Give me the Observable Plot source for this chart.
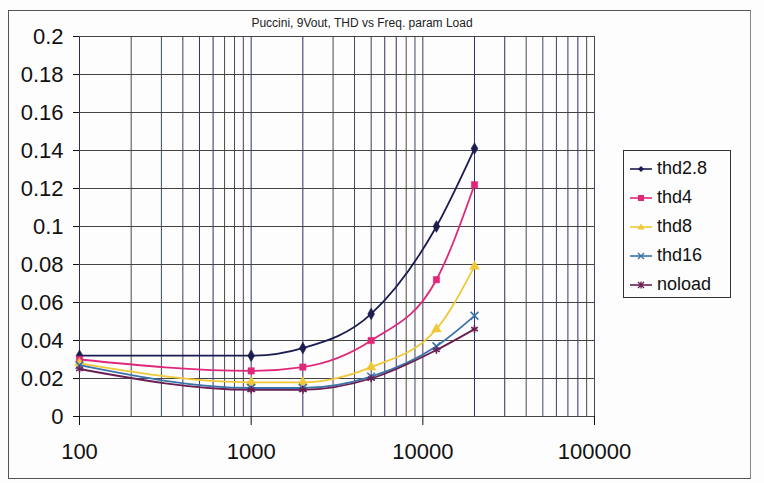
<!DOCTYPE html>
<html><head><meta charset="utf-8">
<script src="https://cdn.jsdelivr.net/npm/d3@7"></script>
<script src="https://cdn.jsdelivr.net/npm/@observablehq/plot@0.6"></script>
<style>
body{margin:0;background:#fff;font-family:"Liberation Sans",Arial,sans-serif;}
#wrap{position:relative;width:764px;height:483px;overflow:hidden;background:#fdfdfd;}
#border{position:absolute;left:8px;top:10px;width:741px;height:467px;border:1px solid #555;border-right-color:#888;}
#title{position:absolute;left:0;width:724px;top:16px;text-align:center;font-size:12px;color:#222;}
#legend{position:absolute;left:623px;top:150px;width:108px;height:148px;border:1px solid #333;box-sizing:border-box;padding-top:3px;}
.li{display:flex;align-items:center;height:29px;font-size:18px;color:#111;}
.li svg{margin-left:6px;margin-right:5px;}
#chart{position:absolute;left:0;top:0;}
</style></head>
<body>
<div id="wrap">
<div id="border"></div>
<div id="chart"></div>
<div id="title"></div>
<div id="legend"></div>
</div>
<script>
const titleText = "Puccini, 9Vout, THD vs Freq. param Load";
const freqs = [100, 1000, 2000, 5000, 12000, 20000];
const thd28 = [0.032, 0.032, 0.036, 0.054, 0.100, 0.141];
const thd4 = [0.030, 0.024, 0.026, 0.040, 0.072, 0.122];
const thd8 = [0.028, 0.018, 0.018, 0.026, 0.046, 0.079];
const thd16 = [0.027, 0.015, 0.015, 0.021, 0.037, 0.053];
const noload = [0.025, 0.014, 0.014, 0.020, 0.035, 0.046];
const seriesNames = ["thd2.8", "thd4", "thd8", "thd16", "noload"];
const seriesColors = ["#1c1c50", "#e0287a", "#f0c838", "#3a74aa", "#6a1e52"];
const seriesSymbols = ["diamond", "square", "triangle", "times", "asterisk"];
const yTicks = [0, 0.02, 0.04, 0.06, 0.08, 0.1, 0.12, 0.14, 0.16, 0.18, 0.2];
const xTickLabels = [100, 1000, 10000, 100000];
const gridPalette = ["#2e2a66", "#4c4a48", "#3c4c5c", "#4a3662", "#34346a"];

const allValues = [thd28, thd4, thd8, thd16, noload];
const xGrid = [];
for (const dec of [100, 1000, 10000]) for (let k = 1; k <= 9; k++) xGrid.push(dec * k);
xGrid.push(100000);

const marks = [
  Plot.ruleX(xGrid, {x: d => d, stroke: (d, i) => gridPalette[i % gridPalette.length], strokeWidth: 1}),
  Plot.ruleY(yTicks, {y: d => d, stroke: "#444", strokeWidth: 1.1}),
  Plot.axisY({ticks: yTicks, tickSize: 6, tickPadding: 10, fontSize: 22, label: null,
    tickFormat: d => String(Math.round(d * 100) / 100)}),
  Plot.axisX({ticks: xTickLabels, tickSize: 9, tickPadding: 18, fontSize: 22, label: null,
    tickFormat: d => String(d)})
];
seriesNames.forEach((name, s) => {
  const rows = freqs.map((f, i) => ({f, v: allValues[s][i]}));
  marks.push(Plot.line(rows, {x: "f", y: "v", stroke: seriesColors[s], strokeWidth: 1.8, curve: "monotone-x"}));
  const filled = ["diamond", "square", "triangle"].includes(seriesSymbols[s]);
  marks.push(Plot.dot(rows, {x: "f", y: "v", symbol: seriesSymbols[s], r: 3.6,
    fill: filled ? seriesColors[s] : "none", stroke: seriesColors[s], strokeWidth: filled ? 0.5 : 1.6}));
});

const chart = Plot.plot({
  width: 764, height: 483,
  marginLeft: 79, marginRight: 170, marginTop: 36, marginBottom: 67,
  style: {fontFamily: "'Liberation Sans', Arial, sans-serif", background: "transparent", color: "#111"},
  x: {type: "log", domain: [100, 100000]},
  y: {domain: [0, 0.2]},
  marks
});
document.getElementById("chart").appendChild(chart);
document.getElementById("title").textContent = titleText;

const legend = document.getElementById("legend");
const symPaths = {
  diamond: '<path d="M11,3 L14,6 L11,9 L8,6Z" fill="C"/>',
  square: '<rect x="8" y="3" width="6" height="6" fill="C"/>',
  triangle: '<path d="M11,2.5 L14.5,8.5 L7.5,8.5Z" fill="C"/>',
  times: '<path d="M8,3 L14,9 M14,3 L8,9" stroke="C" stroke-width="1.4"/>',
  asterisk: '<path d="M8,3 L14,9 M14,3 L8,9 M11,2.5 L11,9.5" stroke="C" stroke-width="1.3"/>'
};
seriesNames.forEach((name, s) => {
  const c = seriesColors[s];
  const div = document.createElement("div");
  div.className = "li";
  div.innerHTML = `<svg width="22" height="12"><line x1="0" x2="22" y1="6" y2="6" stroke="${c}" stroke-width="1.6"/>${symPaths[seriesSymbols[s]].replace(/C/g, c)}</svg><span>${name}</span>`;
  legend.appendChild(div);
});
</script>
</body></html>
